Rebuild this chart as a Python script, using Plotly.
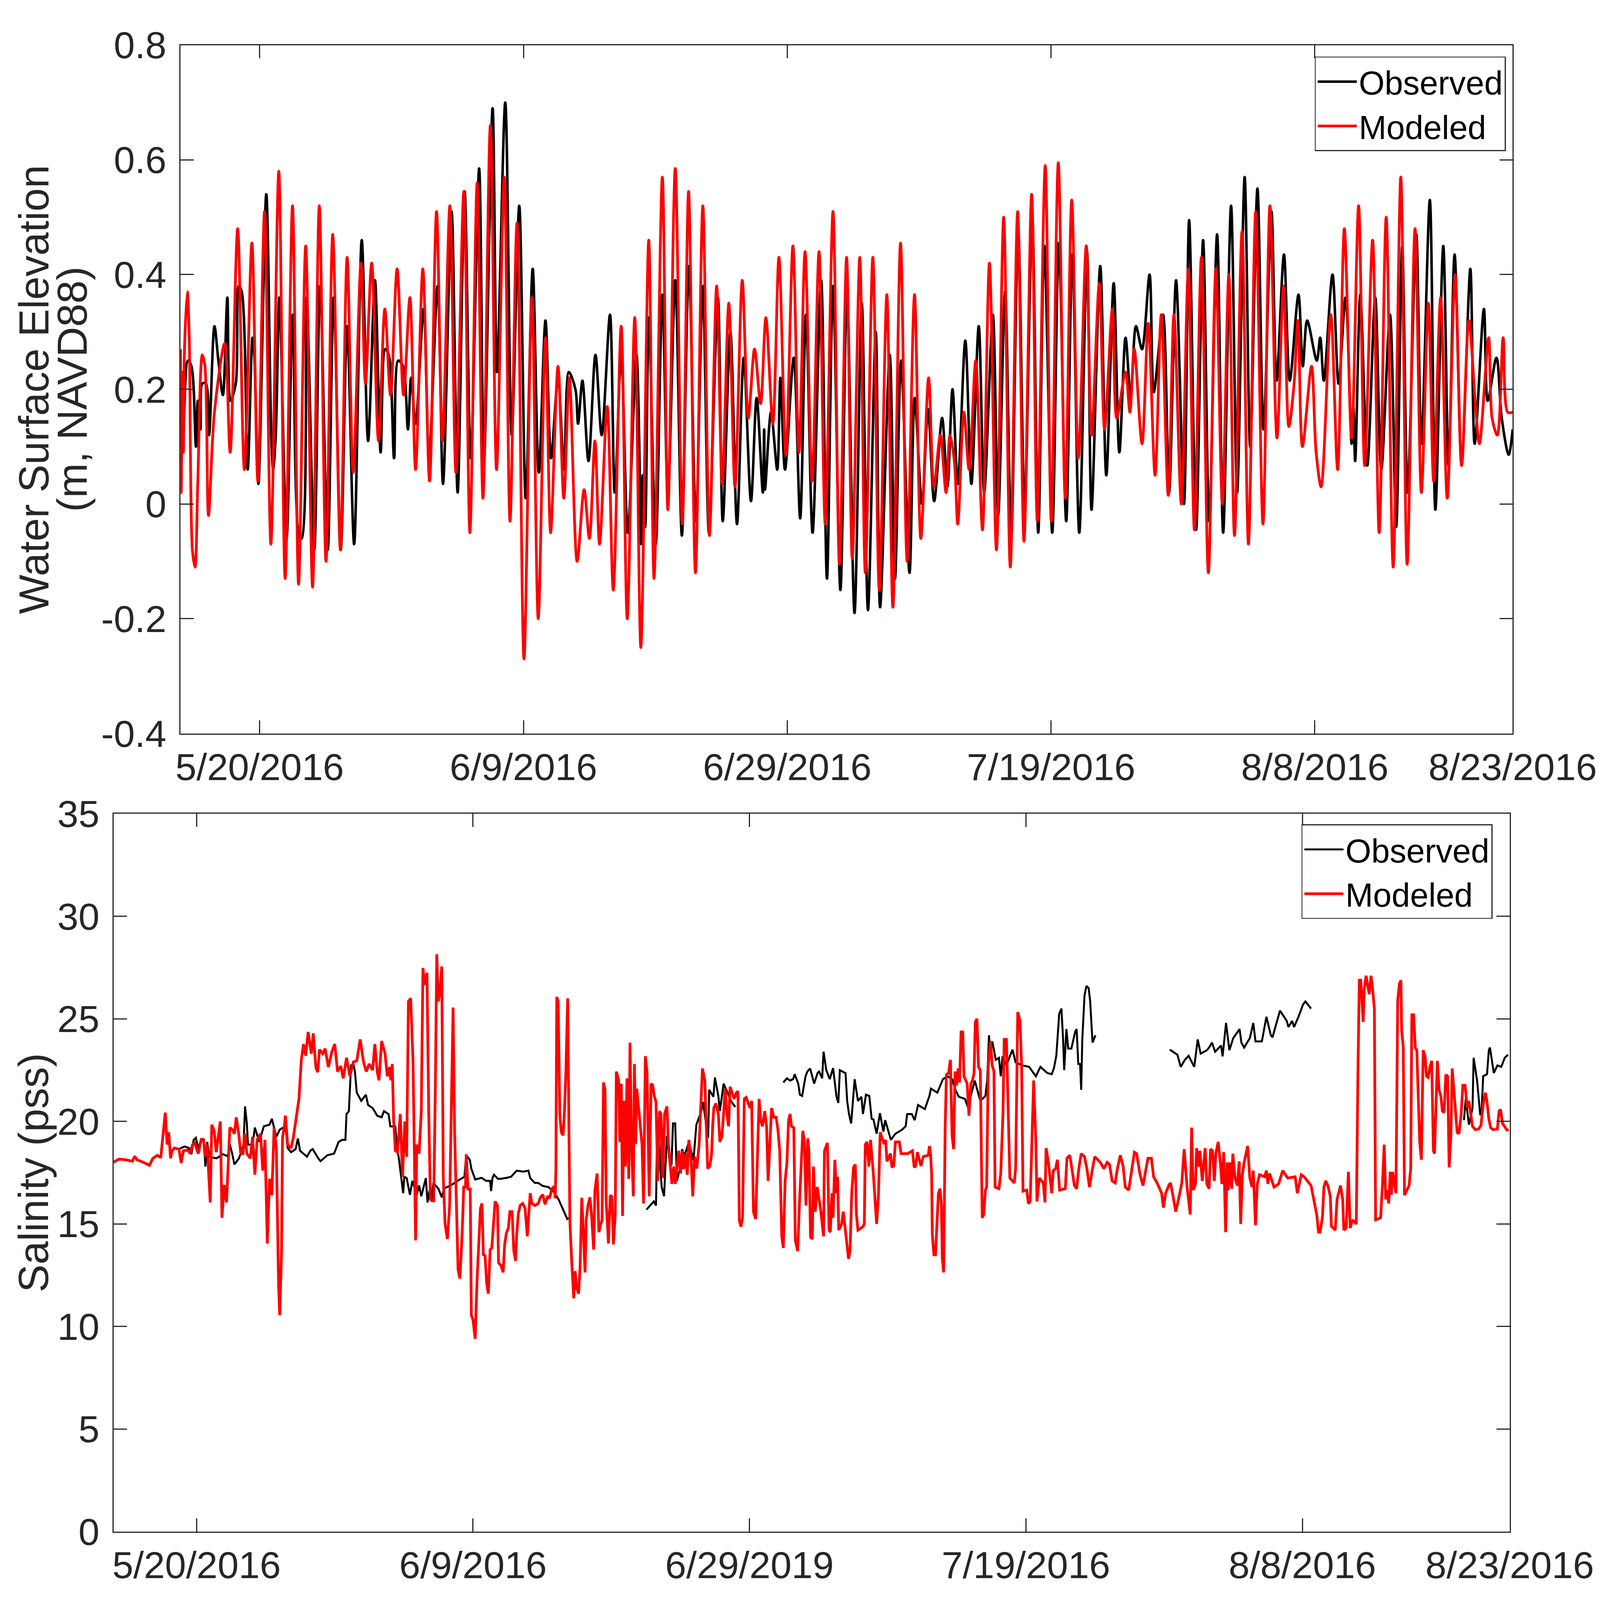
import pandas as pd
import plotly.graph_objects as go

START = pd.Timestamp("2016-05-14")

# ---------------- Water surface elevation (days since 5/14/2016, metres) ----------------
wse_mod_pts = [
    (0.00, 0.27), (0.05, 0.02), (0.15, 0.23), (0.22, 0.09), (0.30, 0.27), (0.52, 0.37), (0.66, 0.29),
    (0.90, -0.08), (1.10, -0.11), (1.30, 0.03), (1.65, 0.26), (1.85, 0.24), (2.12, -0.02), (2.57, 0.16),
    (3.35, 0.28), (3.76, 0.09), (4.33, 0.48), (4.84, 0.06), (5.41, 0.455), (5.86, 0.04), (6.37, 0.51),
    (6.85, -0.07), (7.45, 0.58), (7.93, -0.13), (8.49, 0.52), (8.95, -0.14), (9.49, 0.45), (10.01, -0.145),
    (10.52, 0.52), (11.03, -0.10), (11.54, 0.47), (12.12, -0.08), (12.63, 0.43), (13.09, 0.055),
    (13.68, 0.42), (14.02, 0.21), (14.49, 0.42), (15.01, 0.11), (15.49, 0.34), (15.92, 0.19), (16.42, 0.41),
    (16.91, 0.19), (17.39, 0.36), (17.82, 0.06), (18.37, 0.41), (18.88, 0.04), (19.41, 0.51), (19.86, 0.11),
    (20.42, 0.52), (20.88, 0.055), (21.48, 0.545), (21.94, -0.05), (22.49, 0.56), (22.93, 0.01),
    (23.49, 0.66), (23.96, 0.06), (24.54, 0.57), (24.98, -0.03), (25.51, 0.49), (26.04, -0.27),
    (26.64, 0.36), (27.12, -0.20), (27.67, 0.29), (28.06, -0.05), (28.62, 0.24), (29.06, 0.01),
    (29.48, 0.22), (30.07, -0.10), (30.60, 0.025), (31.00, -0.06), (31.42, 0.11), (31.77, -0.07),
    (32.35, 0.17), (32.81, -0.15), (33.41, 0.31), (33.87, -0.20), (34.44, 0.325), (34.90, -0.25),
    (35.50, 0.46), (35.90, -0.13), (36.53, 0.57), (36.95, -0.01), (37.51, 0.585), (38.04, -0.035),
    (38.52, 0.545), (39.04, -0.12), (39.60, 0.52), (40.10, -0.055), (40.65, 0.38), (41.07, 0.035),
    (41.57, 0.35), (42.04, 0.03), (42.59, 0.39), (43.05, 0.15), (43.52, 0.27), (43.98, 0.175),
    (44.38, 0.325), (44.91, 0.14), (45.37, 0.43), (45.90, 0.085), (46.43, 0.45), (46.89, 0.09),
    (47.35, 0.44), (47.88, 0.04), (48.41, 0.44), (48.88, -0.035), (49.47, 0.51), (49.96, -0.105),
    (50.50, 0.43), (50.93, -0.095), (51.50, 0.43), (51.92, -0.12), (52.49, 0.43), (52.98, -0.15),
    (53.55, 0.365), (54.01, -0.18), (54.59, 0.455), (55.09, -0.10), (55.65, 0.365), (56.13, -0.06),
    (56.72, 0.22), (57.12, 0.03), (57.61, 0.12), (58.04, 0.02), (58.34, 0.12), (58.67, 0.075),
    (58.93, -0.035), (59.39, 0.16), (59.79, 0.06), (60.29, 0.25), (60.80, -0.045), (61.33, 0.42),
    (61.86, -0.08), (62.41, 0.50), (62.91, -0.11), (63.47, 0.51), (63.95, -0.065), (64.53, 0.54),
    (64.96, -0.03), (65.56, 0.59), (66.02, -0.03), (66.55, 0.595), (67.08, 0.01), (67.57, 0.53),
    (68.07, 0.08), (68.67, 0.45), (69.07, 0.12), (69.66, 0.385), (70.06, 0.13), (70.65, 0.34),
    (70.98, 0.15), (71.65, 0.23), (71.98, 0.16), (72.31, 0.27), (72.90, 0.105), (73.37, 0.315),
    (73.89, 0.05), (74.36, 0.33), (74.89, 0.015), (75.32, 0.33), (75.88, 0.0), (76.41, 0.41),
    (76.87, -0.045), (77.40, 0.43), (77.93, -0.12), (78.50, 0.41), (78.99, 0.0), (79.48, 0.40),
    (79.91, -0.055), (80.48, 0.475), (80.97, -0.07), (81.52, 0.51), (82.07, -0.035), (82.60, 0.52),
    (83.13, 0.115), (83.63, 0.38), (84.03, 0.135), (84.43, 0.21), (84.72, 0.32), (85.06, 0.10),
    (85.75, 0.24), (86.10, 0.09), (86.48, 0.03), (87.21, 0.33), (87.73, 0.06), (88.24, 0.48),
    (88.79, 0.115), (89.32, 0.52), (89.78, 0.067), (90.38, 0.46), (90.88, -0.05), (91.41, 0.50),
    (91.94, -0.11), (92.52, 0.57), (93.00, -0.105), (93.60, 0.48), (94.08, 0.02), (94.61, 0.35),
    (95.01, 0.04), (95.54, 0.36), (96.04, 0.01), (96.64, 0.40), (97.13, 0.067), (97.68, 0.32),
    (98.19, 0.17), (98.48, 0.105), (99.18, 0.29), (99.44, 0.15), (99.84, 0.12), (100.28, 0.29),
    (100.63, 0.16), (101.0, 0.16),
]

wse_obs_pts = [
    (0.0, 0.21), (0.15, 0.09), (0.56, 0.25), (0.83, 0.24), (1.17, 0.10), (1.31, 0.18), (1.51, 0.13),
    (1.65, 0.21), (1.92, 0.21), (2.16, 0.12), (2.57, 0.31), (2.87, 0.25), (3.21, 0.19), (3.55, 0.36),
    (3.78, 0.18), (4.19, 0.21), (4.41, 0.38), (4.64, 0.37), (5.09, 0.06), (5.45, 0.29), (5.59, 0.26),
    (5.90, 0.035), (6.50, 0.54), (6.88, 0.12), (7.02, 0.06), (7.22, 0.12), (7.49, 0.36), (8.04, -0.06),
    (8.51, 0.33), (9.03, -0.06), (9.19, -0.06), (9.56, 0.36), (10.14, -0.08), (10.58, 0.38),
    (11.16, -0.08), (11.61, 0.36), (12.15, -0.08), (12.63, 0.31), (13.16, -0.07), (13.74, 0.46),
    (14.22, 0.11), (14.74, 0.39), (15.17, 0.09), (15.51, 0.27), (15.78, 0.26), (16.19, 0.08),
    (16.50, 0.25), (16.87, 0.24), (17.24, 0.13), (17.48, 0.22), (17.82, 0.14), (18.43, 0.34),
    (18.84, 0.08), (19.49, 0.38), (19.90, 0.035), (20.55, 0.51), (21.01, 0.02), (21.54, 0.545),
    (22.00, 0.08), (22.64, 0.585), (23.00, 0.07), (23.66, 0.69), (23.99, 0.23), (24.62, 0.70),
    (25.11, 0.12), (25.68, 0.52), (26.17, 0.01), (26.70, 0.41), (27.16, 0.055), (27.67, 0.32),
    (28.09, 0.08), (28.62, 0.22), (29.08, 0.06), (29.44, 0.23), (29.94, 0.20), (30.14, 0.14),
    (30.47, 0.215), (30.93, 0.075), (31.46, 0.26), (31.93, 0.12), (32.56, 0.33), (32.92, 0.02),
    (33.41, 0.26), (33.91, -0.05), (34.57, 0.26), (34.94, -0.07), (35.04, 0.05), (35.23, -0.04),
    (35.50, 0.325), (36.03, -0.07), (36.53, 0.365), (36.95, 0.01), (37.51, 0.39), (38.01, -0.055),
    (38.54, 0.415), (39.07, -0.03), (39.60, 0.38), (40.06, -0.05), (40.74, 0.36), (41.11, -0.03),
    (41.69, 0.30), (42.19, -0.035), (42.70, 0.255), (43.25, 0.005), (43.68, 0.185), (44.15, 0.02),
    (44.25, 0.13), (44.31, 0.025), (44.77, 0.16), (45.24, 0.06), (45.48, 0.22), (45.83, 0.06),
    (46.49, 0.255), (46.98, -0.025), (47.42, 0.33), (47.92, -0.05), (48.57, 0.39), (49.01, -0.13),
    (49.47, 0.38), (50.03, -0.15), (50.53, 0.375), (51.10, -0.19), (51.65, 0.35), (52.12, -0.185),
    (52.71, 0.30), (53.04, -0.18), (53.77, 0.26), (54.17, -0.13), (54.63, 0.25), (55.27, -0.12),
    (55.66, 0.185), (56.22, 0.0), (56.68, 0.165), (57.14, 0.005), (57.74, 0.15), (58.14, 0.03),
    (58.53, 0.20), (58.93, 0.035), (59.50, 0.285), (59.96, 0.035), (60.52, 0.31), (60.93, 0.02),
    (61.59, 0.33), (61.99, -0.02), (62.52, 0.37), (62.98, -0.06), (63.51, 0.48), (64.00, -0.01),
    (64.57, 0.50), (65.03, -0.05), (65.49, 0.45), (66.09, -0.05), (66.59, 0.455), (67.15, -0.03),
    (67.61, 0.435), (68.14, -0.05), (68.73, 0.44), (69.07, -0.01), (69.73, 0.415), (70.19, 0.05),
    (70.75, 0.385), (71.18, 0.09), (71.65, 0.29), (72.04, 0.185), (72.44, 0.31), (72.90, 0.27),
    (73.47, 0.40), (73.79, 0.195), (74.49, 0.33), (74.95, 0.02), (75.48, 0.39), (76.08, 0.0),
    (76.47, 0.495), (77.00, -0.045), (77.53, 0.46), (77.99, -0.03), (78.59, 0.47), (79.05, -0.05),
    (79.65, 0.52), (80.11, 0.02), (80.68, 0.57), (81.10, 0.10), (81.65, 0.55), (82.11, 0.13),
    (82.71, 0.51), (83.10, 0.215), (83.66, 0.435), (84.10, 0.215), (84.76, 0.365), (85.09, 0.24),
    (85.42, 0.32), (86.15, 0.25), (86.41, 0.29), (86.68, 0.215), (87.34, 0.40), (87.80, 0.21),
    (88.33, 0.36), (88.79, 0.105), (88.92, 0.17), (89.06, 0.075), (89.45, 0.365), (89.98, 0.067),
    (90.58, 0.36), (91.04, 0.06), (91.70, 0.33), (92.17, -0.04), (92.63, 0.45), (93.03, 0.02),
    (93.69, 0.47), (94.08, 0.105), (94.72, 0.53), (95.14, -0.01), (95.74, 0.45), (96.14, 0.067),
    (96.60, 0.435), (97.13, 0.067), (97.79, 0.41), (98.12, 0.105), (98.82, 0.34), (99.11, 0.18),
    (99.77, 0.255), (100.17, 0.15), (100.70, 0.086), (101.0, 0.13),
]

# ---------------- Salinity (days since 5/14/2016, pss) ----------------
sal_mod_pts = [
    (0.00, 18.01), (0.38, 18.16), (0.87, 18.13), (1.36, 18.06), (1.53, 18.3), (1.69, 18.13), (2.18, 18.0),
    (2.59, 17.86), (2.84, 18.2), (3.17, 18.35), (3.41, 18.23), (3.53, 19.0), (3.74, 20.43), (3.87, 18.87),
    (3.99, 19.47), (4.12, 18.2), (4.23, 18.57), (4.40, 18.7), (4.73, 18.65), (4.89, 17.98), (5.05, 18.57),
    (5.38, 18.6), (5.54, 18.43), (5.71, 18.87), (5.87, 18.95), (6.12, 18.43), (6.36, 19.17), (6.53, 19.0),
    (6.61, 18.28), (6.77, 18.87), (6.99, 16.05), (7.10, 19.84), (7.27, 19.55), (7.43, 18.5), (7.59, 19.47),
    (7.72, 20.0), (7.84, 15.3), (8.00, 16.9), (8.17, 16.05), (8.33, 19.0), (8.41, 19.7), (8.58, 19.6),
    (8.74, 19.4), (8.87, 20.2), (9.04, 19.47), (9.20, 18.43), (9.36, 18.43), (9.48, 19.4), (9.64, 18.43),
    (9.89, 18.2), (10.05, 19.25), (10.22, 17.4), (10.38, 19.1), (10.63, 19.4), (10.79, 17.6), (10.95, 19.1),
    (11.12, 14.05), (11.28, 17.2), (11.45, 16.4), (11.61, 19.7), (11.77, 18.73), (11.94, 11.9),
    (12.02, 10.56), (12.15, 13.7), (12.22, 19.2), (12.35, 19.76), (12.43, 20.28), (12.59, 18.87),
    (12.84, 18.7), (13.00, 19.2), (13.25, 20.5), (13.41, 21.1), (13.58, 23.0), (13.74, 23.77),
    (13.90, 23.2), (14.07, 24.36), (14.31, 23.3), (14.44, 24.3), (14.64, 22.6), (14.77, 22.4),
    (14.89, 23.5), (15.13, 23.3), (15.30, 23.55), (15.54, 22.65), (15.79, 23.4), (16.00, 23.77),
    (16.20, 22.43), (16.44, 22.7), (16.61, 22.1), (16.85, 23.1), (17.10, 22.2), (17.35, 22.9),
    (17.59, 22.95), (17.84, 24.0), (18.08, 22.9), (18.28, 22.43), (18.49, 22.8), (18.74, 22.5),
    (18.90, 23.77), (19.07, 22.43), (19.20, 22.0), (19.39, 23.92), (19.64, 23.3), (19.80, 22.2),
    (19.97, 22.65), (20.05, 22.0), (20.16, 22.8), (20.26, 20.06), (20.38, 18.57), (20.54, 18.5),
    (20.74, 20.36), (20.90, 17.3), (21.07, 20.0), (21.20, 18.27), (21.33, 25.85), (21.49, 26.0),
    (21.66, 23.0), (21.85, 14.2), (21.93, 18.87), (22.10, 18.43), (22.26, 20.5), (22.38, 27.48),
    (22.51, 26.66), (22.67, 27.25), (22.80, 20.36), (22.92, 16.2), (23.03, 16.13), (23.16, 16.13),
    (23.28, 21.84), (23.38, 28.15), (23.49, 25.85), (23.62, 26.4), (23.74, 27.55), (23.85, 17.3),
    (23.98, 15.0), (24.15, 14.27), (24.31, 15.9), (24.44, 20.36), (24.56, 25.55), (24.67, 19.47),
    (24.80, 15.16), (24.92, 12.79), (25.05, 12.34), (25.21, 14.4), (25.33, 16.8), (25.46, 16.8),
    (25.51, 18.4), (25.64, 16.7), (25.80, 16.7), (25.88, 10.56), (26.00, 10.33), (26.16, 9.4),
    (26.29, 12.2), (26.38, 13.46), (26.46, 14.4), (26.54, 15.76), (26.65, 16.0), (26.75, 13.5),
    (26.87, 13.46), (27.00, 12.05), (27.11, 11.6), (27.24, 13.75), (27.36, 13.83), (27.49, 15.16),
    (27.60, 16.1), (27.77, 15.9), (27.85, 13.1), (28.01, 13.0), (28.18, 12.64), (28.29, 14.0),
    (28.42, 14.57), (28.56, 14.8), (28.67, 15.6), (28.83, 15.6), (28.95, 13.7), (29.08, 13.2),
    (29.16, 14.5), (29.28, 15.5), (29.41, 15.9), (29.60, 16.0), (29.77, 15.76), (29.93, 14.4),
    (30.06, 15.76), (30.14, 16.5), (30.26, 16.0), (30.47, 15.9), (30.72, 16.0), (30.88, 16.3),
    (31.05, 16.43), (31.21, 15.96), (31.41, 16.36), (31.54, 16.25), (31.70, 16.7), (31.87, 16.84),
    (31.95, 16.25), (32.00, 17.8), (32.06, 26.07), (32.16, 25.85), (32.28, 20.36), (32.39, 19.47),
    (32.52, 19.32), (32.62, 20.5), (32.72, 22.43), (32.85, 26.0), (32.93, 20.36), (33.01, 15.16),
    (33.14, 13.2), (33.29, 11.38), (33.39, 12.7), (33.50, 11.9), (33.64, 11.6), (33.75, 12.94),
    (33.87, 16.28), (34.00, 14.4), (34.11, 12.64), (34.19, 15.2), (34.32, 15.9), (34.46, 16.3),
    (34.57, 15.5), (34.73, 13.75), (34.82, 16.65), (34.98, 17.46), (35.11, 14.6), (35.24, 15.0),
    (35.34, 15.16), (35.44, 21.9), (35.55, 21.54), (35.64, 16.05), (35.80, 14.05), (35.93, 16.4),
    (36.05, 16.33), (36.16, 14.0), (36.29, 15.46), (36.37, 22.43), (36.54, 21.99), (36.62, 19.0),
    (36.73, 21.84), (36.82, 15.39), (36.91, 21.0), (37.03, 17.8), (37.14, 22.1), (37.27, 17.2),
    (37.36, 23.84), (37.47, 18.87), (37.60, 16.35), (37.68, 22.8), (37.77, 18.9), (37.85, 21.6),
    (37.93, 20.95), (38.06, 20.2), (38.23, 18.87), (38.34, 16.0), (38.47, 23.18), (38.59, 22.43),
    (38.75, 16.35), (38.88, 21.84), (39.00, 21.77), (39.11, 21.25), (39.24, 20.95), (39.37, 17.1),
    (39.49, 20.5), (39.60, 20.36), (39.73, 17.24), (39.86, 20.36), (40.03, 20.73), (40.14, 18.87),
    (40.26, 18.0), (40.39, 16.95), (40.52, 17.8), (40.63, 16.95), (40.75, 17.73), (40.88, 18.57),
    (41.01, 17.46), (41.13, 18.57), (41.24, 17.68), (41.37, 18.43), (41.50, 17.4), (41.62, 19.1),
    (41.78, 18.13), (41.90, 16.35), (42.03, 18.28), (42.19, 17.7), (42.36, 18.87), (42.49, 21.24),
    (42.60, 22.58), (42.77, 21.99), (42.88, 19.2), (42.98, 17.7), (43.14, 17.84), (43.26, 18.4),
    (43.34, 19.76), (43.42, 20.65), (43.58, 20.88), (43.75, 20.36), (43.86, 19.0), (44.00, 19.24),
    (44.13, 20.36), (44.24, 21.6), (44.37, 20.36), (44.49, 19.76), (44.60, 21.69), (44.73, 21.4),
    (44.90, 21.1), (45.06, 21.4), (45.17, 21.47), (45.27, 15.16), (45.39, 14.87), (45.50, 15.3),
    (45.63, 21.1), (45.76, 21.17), (45.93, 20.8), (46.04, 20.65), (46.16, 21.0), (46.29, 15.6),
    (46.45, 15.24), (46.58, 18.87), (46.70, 21.1), (46.81, 20.06), (46.94, 19.76), (47.11, 20.5),
    (47.24, 19.76), (47.35, 17.1), (47.47, 18.72), (47.60, 20.65), (47.76, 20.2), (47.93, 20.2),
    (48.06, 19.6), (48.19, 18.57), (48.34, 14.4), (48.45, 13.83), (48.58, 17.1), (48.71, 17.97),
    (48.83, 20.06), (48.94, 20.36), (49.04, 19.76), (49.21, 19.69), (49.32, 14.2), (49.49, 13.68),
    (49.62, 16.05), (49.73, 17.54), (49.86, 19.54), (49.98, 19.02), (50.09, 15.9), (50.22, 19.17),
    (50.30, 18.57), (50.42, 14.35), (50.55, 14.27), (50.63, 17.8), (50.76, 15.6),
    (50.90, 16.8), (51.15, 15.7), (51.36, 14.4), (51.43, 18.57), (51.64, 18.95), (51.76, 14.7),
    (51.85, 14.6), (51.97, 16.5), (52.05, 15.3), (52.18, 18.13), (52.30, 16.5), (52.38, 17.3),
    (52.46, 14.7), (52.67, 15.0), (52.79, 15.6), (53.00, 14.2), (53.17, 13.3), (53.28, 13.7),
    (53.40, 16.5), (53.53, 17.76), (53.66, 17.9), (53.74, 15.46), (53.85, 14.7), (54.21, 14.87),
    (54.31, 15.0), (54.38, 18.87), (54.51, 19.0), (54.64, 17.8), (54.76, 19.1), (54.97, 17.4),
    (55.08, 16.05), (55.20, 15.0), (55.33, 16.35), (55.46, 19.47), (55.74, 18.9), (55.85, 19.1),
    (55.95, 18.05), (56.20, 18.43), (56.31, 17.76), (56.44, 17.83), (56.56, 19.0), (56.84, 19.0),
    (56.97, 18.43), (57.46, 18.43), (57.79, 18.57), (57.92, 17.76), (58.03, 17.83), (58.15, 18.5),
    (58.41, 17.83), (58.57, 18.28), (58.94, 18.35), (59.02, 18.8), (59.10, 18.43), (59.18, 17.46),
    (59.23, 14.5), (59.34, 13.5), (59.46, 13.5), (59.56, 15.0), (59.67, 16.5), (59.79, 16.72),
    (59.89, 15.9), (59.95, 13.3), (60.05, 12.64), (60.16, 19.76), (60.25, 22.28), (60.41, 22.36),
    (60.54, 23.0), (60.66, 19.3), (60.77, 18.65), (60.87, 22.43), (60.98, 21.76), (61.10, 22.58),
    (61.20, 21.9), (61.31, 24.36), (61.43, 24.36), (61.52, 22.2), (61.75, 21.84), (61.88, 20.28),
    (62.02, 21.84), (62.13, 22.0), (62.25, 22.35), (62.34, 24.85), (62.46, 25.0), (62.57, 22.65),
    (62.70, 22.5), (62.84, 15.3), (62.95, 15.46), (63.07, 16.65), (63.16, 16.8), (63.28, 22.73),
    (63.44, 23.92), (63.56, 22.73), (63.69, 22.43), (63.77, 16.8), (64.05, 16.72), (64.18, 17.46),
    (64.34, 20.36), (64.43, 24.0), (64.59, 24.0), (64.70, 21.1), (64.84, 17.24), (65.16, 17.0),
    (65.26, 17.76), (65.41, 25.33), (65.57, 24.9), (65.69, 22.73), (65.79, 16.6), (66.06, 16.65),
    (66.18, 16.0), (66.31, 16.1), (66.43, 18.87), (66.56, 22.0), (66.72, 19.0), (66.80, 16.1),
    (66.97, 17.24), (67.26, 17.0), (67.38, 16.05), (67.46, 18.7), (67.62, 18.05), (67.75, 17.1),
    (67.87, 16.5), (67.98, 17.6), (68.15, 17.7), (68.28, 18.13), (68.44, 16.65), (68.85, 16.72),
    (68.97, 18.2), (69.18, 18.35), (69.34, 17.7), (69.51, 16.87), (69.67, 16.72), (69.83, 17.7),
    (70.00, 18.43), (70.24, 18.28), (70.41, 17.7), (70.60, 16.8), (70.82, 17.7), (70.98, 18.28),
    (71.39, 18.0), (71.64, 17.7), (71.88, 18.0), (72.05, 17.9), (72.24, 17.1), (72.46, 17.0),
    (72.62, 17.7), (72.83, 18.35), (73.03, 17.83), (73.19, 16.8), (73.44, 16.65), (73.60, 17.3),
    (73.85, 18.5), (74.01, 18.43), (74.26, 17.4), (74.47, 16.87), (74.67, 17.54), (74.83, 18.2),
    (75.08, 18.2), (75.24, 17.3), (75.49, 17.0), (75.82, 16.5), (75.95, 15.8), (76.11, 16.5),
    (76.35, 16.9), (76.46, 17.0), (76.58, 16.6), (76.84, 15.6), (77.07, 16.3), (77.28, 17.0),
    (77.45, 18.65), (77.66, 16.8), (77.89, 15.46), (77.99, 19.7), (78.10, 16.65), (78.27, 16.95),
    (78.35, 18.7), (78.48, 17.8), (78.59, 18.57), (78.76, 17.1), (78.97, 18.7), (79.09, 16.95),
    (79.25, 16.72), (79.36, 18.65), (79.50, 18.57), (79.63, 17.1), (79.74, 18.43), (79.91, 19.0),
    (80.07, 17.98), (80.18, 16.95), (80.31, 18.5), (80.45, 14.6), (80.56, 18.0), (80.64, 16.65),
    (80.77, 18.0), (80.89, 16.72), (80.97, 18.43), (81.13, 17.24), (81.30, 16.87), (81.43, 18.05),
    (81.54, 15.0), (81.66, 17.4), (81.79, 18.0), (82.04, 18.8), (82.20, 17.24), (82.36, 16.8),
    (82.45, 17.6), (82.61, 14.94), (82.74, 16.95), (82.90, 17.4), (83.27, 17.3), (83.40, 17.6),
    (83.51, 16.95), (83.63, 17.46), (83.95, 16.8), (84.28, 16.95), (84.58, 17.6), (84.94, 17.24),
    (85.48, 17.3), (85.64, 16.5), (85.92, 17.4), (86.13, 17.3), (86.63, 16.87), (86.87, 16.0),
    (87.04, 15.46), (87.17, 14.6), (87.28, 14.6), (87.45, 15.3), (87.56, 16.8), (87.69, 17.1),
    (87.85, 16.87), (88.02, 16.35), (88.10, 14.9), (88.38, 14.7), (88.51, 16.2), (88.76, 16.87),
    (88.92, 16.2), (89.00, 14.7), (89.17, 14.8), (89.33, 17.54), (89.46, 14.8), (89.62, 15.2),
    (89.90, 15.0), (90.02, 22.28), (90.12, 26.88), (90.23, 26.88), (90.31, 26.07), (90.40, 24.85),
    (90.48, 26.44), (90.61, 27.1), (90.84, 26.2), (90.97, 27.1), (91.10, 26.3), (91.21, 25.5),
    (91.30, 15.2), (91.66, 15.3), (91.79, 16.8), (91.92, 18.87), (92.03, 16.2), (92.15, 16.65),
    (92.25, 16.0), (92.36, 17.54), (92.44, 16.42), (92.53, 17.54), (92.77, 16.5), (92.90, 25.9),
    (93.02, 26.7), (93.13, 26.88), (93.18, 24.5), (93.30, 23.6), (93.39, 16.4), (93.72, 16.87),
    (93.84, 17.7), (93.92, 25.2), (94.05, 25.2), (94.17, 23.6), (94.28, 23.47), (94.49, 19.0),
    (94.61, 18.13), (94.74, 23.47), (94.87, 23.2), (94.98, 22.2), (95.10, 22.14), (95.23, 22.65),
    (95.36, 22.95), (95.48, 18.57), (95.56, 18.43), (95.67, 21.2), (95.77, 22.95), (95.89, 21.54),
    (96.02, 21.24), (96.13, 20.5), (96.25, 20.43), (96.38, 22.28), (96.51, 22.2), (96.62, 17.76),
    (96.74, 19.2), (96.84, 22.58), (97.07, 20.73), (97.20, 19.47), (97.33, 19.4), (97.49, 20.36),
    (97.61, 21.76), (97.77, 21.76), (97.93, 20.65), (98.05, 21.0), (98.18, 20.36), (98.31, 19.76),
    (98.51, 19.6), (98.75, 19.63), (98.92, 19.8), (99.08, 20.8), (99.25, 21.4), (99.36, 20.95),
    (99.49, 20.13), (99.62, 19.7), (99.79, 19.6), (100.11, 19.63), (100.23, 20.5), (100.34, 20.58),
    (100.48, 19.9), (100.64, 19.76), (100.80, 19.58), (100.93, 19.6),
]

# None marks a gap in the observed record
sal_obs_pts = [
    (4.72, 18.65), (5.13, 18.78), (5.46, 18.7), (5.63, 18.4), (5.79, 19.1), (5.95, 19.2), (6.12, 18.7),
    (6.28, 19.0), (6.53, 19.14), (6.64, 17.8), (6.77, 19.0), (6.94, 18.28), (7.43, 18.2), (7.92, 18.4),
    (8.25, 18.3), (8.41, 18.87), (8.58, 18.43), (8.74, 17.9), (9.07, 18.2), (9.40, 18.87), (9.51, 20.73),
    (9.64, 19.9), (9.72, 18.87), (10.05, 18.87), (10.22, 19.7), (10.54, 19.0), (10.87, 19.76),
    (11.28, 19.84), (11.45, 20.13), (11.77, 19.25), (12.02, 19.6), (12.43, 19.76), (12.59, 18.7),
    (12.84, 18.5), (13.17, 18.65), (13.33, 19.17), (13.49, 18.57), (13.99, 18.28), (14.23, 18.57),
    (14.40, 18.65), (14.81, 18.2), (14.97, 18.06), (15.46, 18.35), (15.95, 18.43), (16.28, 19.0),
    (16.53, 19.1), (16.77, 19.1), (16.85, 20.36), (17.02, 20.5), (17.10, 21.54), (17.18, 22.73),
    (17.35, 22.8), (17.46, 22.43), (17.59, 21.4), (17.92, 21.0), (18.25, 21.3), (18.41, 20.8),
    (18.74, 20.65), (19.07, 20.28), (19.39, 20.2), (19.56, 20.5), (19.89, 20.36), (20.02, 19.76),
    (20.38, 19.76), (20.51, 18.57), (20.62, 18.28), (20.79, 17.3), (20.95, 16.5), (21.03, 17.3),
    (21.20, 17.24), (21.44, 16.42), (21.61, 17.1), (21.93, 16.42), (22.10, 16.88), (22.26, 16.35),
    (22.59, 17.24), (22.71, 16.05), (22.84, 16.6), (23.00, 16.13), (23.13, 17.0), (23.49, 16.73),
    (23.74, 16.3), (23.90, 16.73), (24.39, 16.88), (24.88, 17.1), (25.38, 17.3), (25.51, 18.35),
    (25.77, 18.13), (25.88, 17.7), (26.16, 17.17), (26.62, 17.25), (26.95, 17.1), (27.24, 17.1),
    (27.31, 16.6), (27.41, 17.25), (27.52, 17.4), (27.80, 17.2), (28.01, 17.2), (28.42, 17.25),
    (28.75, 17.3), (29.16, 17.6), (29.65, 17.55), (30.01, 17.6), (30.14, 17.24), (30.47, 17.0),
    (30.72, 17.0), (31.05, 16.85), (31.46, 16.8), (31.87, 16.55), (32.19, 16.2), (32.52, 15.7),
    (32.82, 15.24), (32.93, 15.3),
    (35.0, None),
    (38.55, 15.7), (38.91, 15.97), (39.08, 16.1), (39.24, 15.9), (39.32, 19.6), (39.44, 19.5),
    (39.54, 17.9), (39.65, 16.8), (39.82, 16.35), (40.03, 19.3), (40.26, 17.8), (40.36, 17.9),
    (40.47, 19.9), (40.63, 19.9), (40.75, 17.1), (41.01, 17.8), (41.13, 18.65), (41.29, 18.3),
    (41.62, 19.0), (41.95, 18.1), (42.16, 19.84), (42.52, 20.5), (42.65, 20.95), (42.88, 19.76),
    (43.01, 19.2), (43.09, 21.54), (43.39, 21.2), (43.50, 22.14), (43.75, 21.24), (43.86, 20.5),
    (44.13, 21.84), (44.36, 21.5), (44.65, 21.0), (44.98, 20.7),
    (46.5, None),
    (48.45, 21.9), (48.71, 22.1), (48.94, 21.99), (49.16, 22.06), (49.27, 22.3), (49.53, 21.84),
    (49.65, 21.3), (49.81, 21.24), (50.06, 22.2), (50.19, 22.43), (50.39, 22.58), (50.68, 21.84),
    (50.93, 22.36), (51.04, 22.43), (51.26, 22.1), (51.36, 23.4), (51.56, 22.5), (51.81, 22.06),
    (52.05, 22.6), (52.30, 21.2), (52.43, 20.9), (52.54, 22.5), (52.95, 22.35), (53.07, 21.0),
    (53.20, 20.36), (53.36, 19.9), (53.61, 22.06), (53.85, 21.0), (54.10, 21.2), (54.21, 20.36),
    (54.43, 21.3), (54.67, 21.24), (54.84, 20.13), (54.97, 20.1), (55.20, 19.4), (55.44, 20.4),
    (55.69, 19.5), (55.82, 20.06), (56.23, 19.1), (56.56, 19.4), (57.05, 19.6), (57.30, 19.76),
    (57.41, 20.36), (57.75, 20.36), (57.95, 20.06), (58.20, 20.8), (58.69, 20.6), (59.02, 21.24),
    (59.13, 21.6), (59.59, 21.4), (60.00, 22.06), (60.33, 22.2), (60.66, 22.06), (60.90, 21.54),
    (61.15, 21.2), (61.59, 21.1), (61.80, 20.7), (62.30, 21.99), (62.70, 21.0), (63.07, 21.24),
    (63.20, 22.0), (63.33, 24.2), (63.44, 23.3), (63.57, 23.9), (63.82, 23.0), (64.05, 23.1),
    (64.18, 22.2), (64.31, 23.17), (64.59, 22.73), (65.03, 23.5), (65.25, 22.88), (65.74, 22.73),
    (66.23, 22.66), (66.72, 22.2), (67.05, 22.66), (67.54, 22.36), (67.87, 22.3), (68.03, 22.6),
    (68.20, 23.2), (68.31, 24.36), (68.41, 25.25), (68.57, 25.5), (68.69, 24.0), (68.77, 22.5),
    (68.93, 24.5), (69.06, 23.55), (69.29, 23.55), (69.56, 24.36), (69.67, 24.5), (69.79, 22.8),
    (69.92, 22.8), (70.00, 21.54), (70.08, 24.0), (70.24, 26.14), (70.38, 26.6), (70.54, 26.5),
    (70.65, 25.85), (70.82, 23.84), (71.03, 24.2),
    (73.5, None),
    (76.41, 23.5), (76.96, 23.25), (77.20, 22.66), (77.50, 23.0), (77.77, 23.2), (78.18, 22.66),
    (78.43, 24.0), (78.64, 23.3), (79.09, 23.47), (79.25, 23.6), (79.46, 23.84), (79.69, 23.4),
    (80.12, 23.7), (80.23, 23.17), (80.48, 24.8), (80.72, 23.47), (81.00, 24.06), (81.46, 24.5),
    (81.59, 23.84), (81.79, 23.6), (82.20, 24.06), (82.45, 24.8), (82.61, 23.9), (83.07, 23.9),
    (83.40, 25.1), (83.72, 24.2), (83.84, 24.1), (84.12, 24.8), (84.38, 25.4), (84.87, 24.9),
    (84.99, 24.6), (85.26, 24.9), (85.40, 24.6), (85.72, 25.1), (86.05, 25.7), (86.22, 25.85),
    (86.51, 25.6), (86.63, 25.5),
    (92.0, None),
    (97.69, 20.06), (97.82, 21.1), (98.05, 19.84), (98.31, 20.65), (98.39, 23.1), (98.64, 22.0),
    (98.87, 20.3), (98.97, 20.5), (99.08, 22.2), (99.36, 22.3), (99.49, 23.47), (99.57, 23.6),
    (99.85, 22.36), (100.11, 22.73), (100.39, 22.66), (100.64, 23.1), (100.88, 23.25),
]

tick_dates = ["2016-05-20", "2016-06-09", "2016-06-29", "2016-07-19", "2016-08-08", "2016-08-23"]
tick_text_top = ["5/20/2016", "6/9/2016", "6/29/2016", "7/19/2016", "8/8/2016", "8/23/2016"]
tick_text_bottom = ["5/20/2016", "6/9/2016", "6/29/2019", "7/19/2016", "8/8/2016", "8/23/2016"]
wse_ticks = [-0.4, -0.2, 0, 0.2, 0.4, 0.6, 0.8]
wse_tick_text = ["-0.4", "-0.2", "0", "0.2", "0.4", "0.6", "0.8"]
sal_ticks = [0, 5, 10, 15, 20, 25, 30, 35]


def to_xy(pts):
    days = [p[0] for p in pts]
    vals = [p[1] for p in pts]
    x = list(START + pd.to_timedelta(days, unit="D"))
    return x, vals


W, H = 4301, 4119
FONT = "Liberation Sans, Arial, Helvetica, sans-serif"
AX = "#262626"

fig = go.Figure()

x, y = to_xy(wse_obs_pts)
fig.add_trace(go.Scatter(x=x, y=y, mode="lines", name="Observed",
                         line=dict(color="black", width=6.5, shape="spline", smoothing=0.9),
                         xaxis="x", yaxis="y", legend="legend"))
x, y = to_xy(wse_mod_pts)
fig.add_trace(go.Scatter(x=x, y=y, mode="lines", name="Modeled",
                         line=dict(color="#FF0000", width=7, shape="spline", smoothing=0.9),
                         xaxis="x", yaxis="y", legend="legend"))
x, y = to_xy(sal_obs_pts)
fig.add_trace(go.Scatter(x=x, y=y, mode="lines", name="Observed", line=dict(color="black", width=5),
                         connectgaps=False, xaxis="x2", yaxis="y2", legend="legend2"))
x, y = to_xy(sal_mod_pts)
fig.add_trace(go.Scatter(x=x, y=y, mode="lines", name="Modeled", line=dict(color="#FF0000", width=7),
                         xaxis="x2", yaxis="y2", legend="legend2"))

axis_common = dict(showline=True, linecolor=AX, linewidth=2.5, mirror="ticks", ticks="inside",
                   ticklen=34, tickwidth=2.5, tickcolor=AX, showgrid=False, zeroline=False,
                   tickfont=dict(family=FONT, size=97, color=AX))

range_x = ["2016-05-14", "2016-08-23"]

legend_common = dict(xanchor="left", yanchor="top", bgcolor="white", bordercolor=AX, borderwidth=2.5,
                     font=dict(family=FONT, size=85, color="black"), itemwidth=100, tracegroupgap=0)

fig.update_layout(
    width=W, height=H, autosize=False,
    margin=dict(l=0, r=0, t=0, b=0, pad=0),
    paper_bgcolor="white", plot_bgcolor="white",
    font=dict(family=FONT, color=AX),
    xaxis=dict(domain=[466 / W, 4068 / W], anchor="y", range=range_x, tickmode="array",
               tickvals=tick_dates, ticktext=tick_text_top, ticklabelstandoff=0, **axis_common),
    yaxis=dict(domain=[1 - 1865 / H, 1 - 55 / H], anchor="x", range=[-0.4, 0.8], tickmode="array",
               tickvals=wse_ticks, ticktext=wse_tick_text, ticklabelstandoff=14, **axis_common),
    xaxis2=dict(domain=[285 / W, 4060 / W], anchor="y2", range=range_x, tickmode="array",
                tickvals=tick_dates, ticktext=tick_text_bottom, ticklabelstandoff=0, **axis_common),
    yaxis2=dict(domain=[1 - 3964 / H, 1 - 2076 / H], anchor="x2", range=[0, 35], tickmode="array",
                tickvals=sal_ticks, ticklabelstandoff=14, **axis_common),
    legend=dict(x=3533 / W, y=1 - 85 / H, **legend_common),
    legend2=dict(x=3497 / W, y=1 - 2104 / H, **legend_common),
    showlegend=True,
    annotations=[
        dict(text="Water Surface Elevation", xref="paper", yref="paper", x=69 / W, y=1 - 960 / H,
             xanchor="center", yanchor="middle", textangle=-90, showarrow=False,
             font=dict(family=FONT, size=107, color=AX)),
        dict(text="(m, NAVD88)", xref="paper", yref="paper", x=173 / W, y=1 - 960 / H,
             xanchor="center", yanchor="middle", textangle=-90, showarrow=False,
             font=dict(family=FONT, size=107, color=AX)),
        dict(text="Salinity (pss)", xref="paper", yref="paper", x=69 / W, y=1 - 3020 / H,
             xanchor="center", yanchor="middle", textangle=-90, showarrow=False,
             font=dict(family=FONT, size=107, color=AX)),
    ],
)

fig.write_html("out.html")
